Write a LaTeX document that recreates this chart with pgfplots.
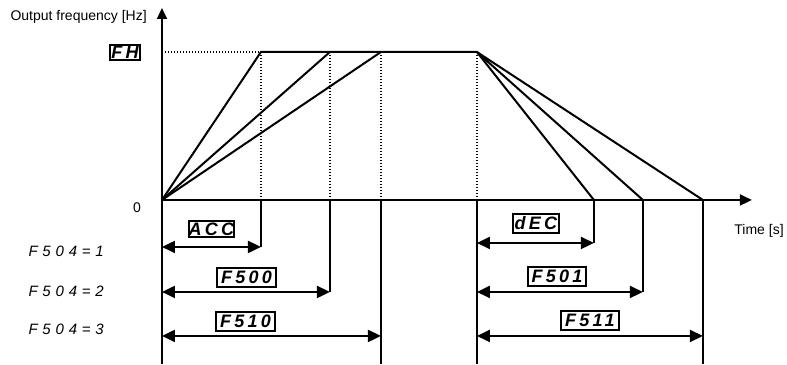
\documentclass[border=0pt]{standalone}
\usepackage{fontspec}
\setmainfont{Liberation Sans}
\newfontfamily\segfont[LetterSpace=18]{Liberation Sans}
\newfontfamily\segthin[LetterSpace=32]{Liberation Sans}
\usepackage{pgfplots}
\pgfplotsset{compat=1.18}
\usetikzlibrary{arrows.meta}

\tikzset{
  prof/.style={black, solid, line width=2pt, line join=miter, mark=none},
  dots/.style={black, solid, line width=1.3pt, dash pattern=on 1.3pt off 1.7pt, mark=none},
  dim/.style={prof, {Triangle[length=13pt,width=12pt]}-{Triangle[length=13pt,width=12pt]}},
  seg/.style={draw, line width=1.6pt, inner sep=0pt, font=\segfont\bfseries\itshape\fontsize{18}{18}\selectfont},
  sellbl/.style={font=\segthin\itshape\fontsize{15}{15}\selectfont, anchor=west},
}

\begin{document}
\begin{tikzpicture}
\begin{axis}[
  width=787pt, height=364pt, scale only axis,
  xmin=0, xmax=787, ymin=0, ymax=364,
  hide axis, clip=false,
]
\path (rel axis cs:0,0) rectangle (rel axis cs:1,1);

% axes
\addplot[prof, -{Triangle[length=11pt,width=10pt]}] coordinates {(162,0) (162,356)};
\addplot[prof, -{Triangle[length=12pt,width=11pt]}] coordinates {(161,164) (752,164)};

% dotted guides
\addplot[dots] coordinates {(162,312) (261,312)};
\addplot[dots] coordinates {(261,312) (261,164)};
\addplot[dots] coordinates {(330,312) (330,164)};
\addplot[dots] coordinates {(381,312) (381,164)};
\addplot[dots] coordinates {(477,312) (477,164)};

% frequency profiles
\addplot[prof] coordinates {(162,164) (261,312) (477,312) (594,164)};
\addplot[prof] coordinates {(162,164) (330,312)};
\addplot[prof] coordinates {(162,164) (381,312)};
\addplot[prof] coordinates {(477,312) (643,164)};
\addplot[prof] coordinates {(477,312) (703,164)};

% drop lines under the time axis
\addplot[prof] coordinates {(261,164) (261,117)};
\addplot[prof] coordinates {(330,164) (330,72)};
\addplot[prof] coordinates {(381,164) (381,0)};
\addplot[prof] coordinates {(477,164) (477,0)};
\addplot[prof] coordinates {(594,164) (594,121)};
\addplot[prof] coordinates {(643,164) (643,72)};
\addplot[prof] coordinates {(703,164) (703,0)};

% time spans
\addplot[dim] coordinates {(162,117) (261,117)};
\addplot[dim] coordinates {(162,72) (330,72)};
\addplot[dim] coordinates {(162,28) (381,28)};
\addplot[dim] coordinates {(477,121) (594,121)};
\addplot[dim] coordinates {(477,72) (643,72)};
\addplot[dim] coordinates {(477,28) (703,28)};

% labels
\node[anchor=west, font=\fontsize{14}{14}\selectfont] at (axis cs:7,347) {Output frequency [Hz]};
\node[font=\fontsize{14}{14}\selectfont] at (axis cs:137,156.5) {0};
\node[anchor=west, font=\fontsize{14}{14}\selectfont] at (axis cs:731,133) {Time [s]};

\node[seg, minimum width=30pt, minimum height=15pt] at (axis cs:125,311.5) {FH};
\node[seg, minimum width=41pt, minimum height=16pt] at (axis cs:211.5,135) {ACC};
\node[seg, minimum width=59pt, minimum height=19pt] at (axis cs:246.5,86.5) {F500};
\node[seg, minimum width=59pt, minimum height=19pt] at (axis cs:245.5,42.5) {F510};
\node[seg, minimum width=46pt, minimum height=19pt] at (axis cs:536,140.5) {dEC};
\node[seg, minimum width=58pt, minimum height=19pt] at (axis cs:557,87.5) {F501};
\node[seg, minimum width=58pt, minimum height=19pt] at (axis cs:590,43.5) {F511};

\node[sellbl] at (axis cs:25,113) {F504=1};
\node[sellbl] at (axis cs:25,73) {F504=2};
\node[sellbl] at (axis cs:25,34.5) {F504=3};
\end{axis}
\end{tikzpicture}
\end{document}
